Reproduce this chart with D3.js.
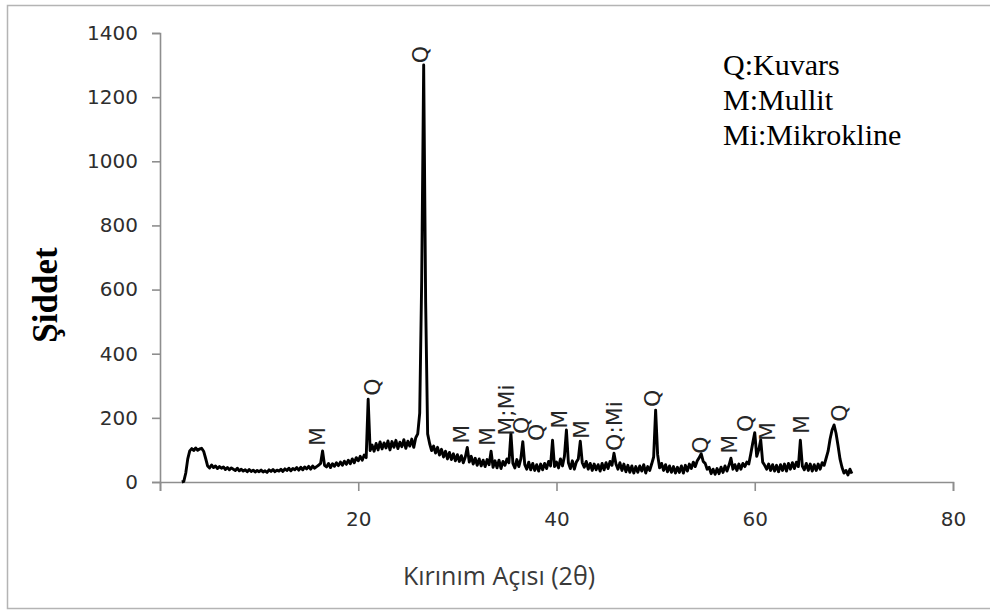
<!DOCTYPE html>
<html>
<head>
<meta charset="utf-8">
<script src="https://cdn.jsdelivr.net/npm/d3@7/dist/d3.min.js"></script>
<style>
  html, body { margin: 0; padding: 0; background: #fff; }
  svg { display: block; }
</style>
</head>
<body>
<svg id="chart" width="990" height="613"></svg>
<script>
// XRD scan: start angle, step width (2θ, degrees) and measured counts
const scanStart = 2.2;
const scanStep = 0.2;
const counts = [
  0, 2, 28, 72, 97, 104, 98, 106, 99, 103,           // 2.2 - 4.0
  105, 96, 74, 50, 44, 53, 45, 50, 42, 48,           // 4.2 - 6.0
  43, 47, 39, 45, 38, 44, 40, 36, 43, 35,            // 6.2 - 8.0
  40, 34, 38, 32, 39, 33, 37, 31, 36, 32,            // 8.2 - 10.0
  37, 31, 35, 30, 38, 33, 39, 32, 37, 34,            // 10.2 - 12.0
  40, 33, 41, 36, 43, 35, 42, 38, 45, 37,            // 12.2 - 14.0
  46, 38, 47, 41, 49, 40, 50, 43, 48, 52,            // 14.2 - 16.0
  58, 97, 52, 47, 58, 45, 57, 49, 60, 51,            // 16.2 - 18.0
  62, 52, 65, 55, 68, 57, 72, 60, 76, 66,            // 18.2 - 20.0
  80, 68, 84, 76, 258, 98, 115, 96, 120, 100,        // 20.2 - 22.0
  125, 103, 122, 106, 128, 100, 126, 108, 130, 104,  // 22.2 - 24.0
  124, 110, 132, 105, 127, 112, 134, 108, 138, 150,  // 24.2 - 26.0
  215, 630, 1300, 560, 150, 120, 98, 112, 90, 108,   // 26.2 - 28.0
  84, 102, 78, 96, 72, 92, 70, 88, 66, 85,           // 28.2 - 30.0
  64, 82, 60, 78, 108, 62, 80, 56, 74, 52,           // 30.2 - 32.0
  72, 50, 68, 48, 70, 54, 96, 46, 66, 44,            // 32.2 - 34.0
  68, 42, 64, 52, 72, 60, 152, 58, 44, 70,           // 34.2 - 36.0
  48, 72, 126, 54, 40, 62, 38, 58, 36, 54,           // 36.2 - 38.0
  34, 56, 38, 58, 42, 64, 50, 130, 48, 62,           // 38.2 - 40.0
  44, 72, 50, 80, 162, 60, 42, 66, 40, 62,           // 40.2 - 42.0
  72, 127, 60, 46, 64, 40, 58, 36, 56, 38,           // 42.2 - 44.0
  54, 34, 58, 38, 60, 42, 64, 52, 90, 56,            // 44.2 - 46.0
  40, 60, 36, 56, 32, 52, 30, 50, 28, 48,            // 46.2 - 48.0
  30, 50, 34, 54, 28, 48, 36, 56, 78, 224,           // 48.2 - 50.0
  86, 44, 58, 36, 54, 32, 50, 30, 48, 28,            // 50.2 - 52.0
  46, 30, 50, 28, 52, 34, 56, 42, 62, 48,            // 52.2 - 54.0
  66, 76, 88, 64, 58, 40, 46, 26, 40, 24,            // 54.2 - 56.0
  42, 26, 46, 30, 50, 34, 52, 74, 40, 54,            // 56.2 - 58.0
  36, 56, 40, 58, 48, 62, 56, 88, 122, 154,          // 58.2 - 60.0
  80, 100, 132, 62, 52, 40, 56, 36, 54, 34,          // 60.2 - 62.0
  52, 32, 54, 36, 56, 34, 58, 40, 60, 42,            // 62.2 - 64.0
  62, 48, 130, 50, 38, 58, 36, 56, 34, 54,           // 64.2 - 66.0
  36, 56, 40, 60, 52, 74, 96, 134, 162, 178,         // 66.2 - 68.0
  152, 114, 72, 46, 28, 36, 22, 40, 26               // 68.2 - 69.8
];

// Phase annotations: text, 2θ position and intensity level where the text starts
const peakLabels = ["M", "Q", "Q", "M", "M", "M;Mi", "Q", "Q", "M", "M", "Q:Mi", "Q", "Q", "M", "Q", "M", "M", "Q"];
const peakLabelAngles = [15.9, 21.4, 26.3, 30.45, 33.0, 35.0, 36.5, 38.0, 40.3, 42.5, 45.9, 49.7, 54.5, 57.5, 59.1, 61.3, 64.7, 68.6];
const peakLabelLevels = [112, 269, 1306, 119, 112, 144, 150, 128, 166, 134, 97, 234, 88, 88, 156, 128, 150, 188];

const legendLines = ["Q:Kuvars", "M:Mullit", "Mi:Mikrokline"];

const xTicks = [0, 20, 40, 60, 80];
const yTicks = [0, 200, 400, 600, 800, 1000, 1200, 1400];

const xTitle = "Kırınım Açısı (2θ)";
const yTitle = "Şiddet";

const pattern = counts.map((c, i) => ({ angle: +(scanStart + i * scanStep).toFixed(1), count: c }));

const svg = d3.select("#chart");

// outer frame
svg.append("rect")
  .attr("x", 7.5).attr("y", 5.5)
  .attr("width", 1000).attr("height", 603)
  .attr("fill", "none")
  .attr("stroke", "#b4b4b4")
  .attr("stroke-width", 1.5);

const x = d3.scaleLinear().domain([0, 80]).range([160, 953]);
const y = d3.scaleLinear().domain([0, 1400]).range([482, 33]);

const axisColor = "#8e8e8e";
const tickFont = "'DejaVu Sans', sans-serif";

const xAxis = svg.append("g")
  .attr("transform", `translate(0,${y(0)})`)
  .call(d3.axisBottom(x).tickValues(xTicks).tickSize(9).tickSizeOuter(9).tickPadding(21)
    .tickFormat(d => d === 0 ? "" : d3.format("d")(d)));

const yAxis = svg.append("g")
  .attr("transform", `translate(${x(0)},0)`)
  .call(d3.axisLeft(y).tickValues(yTicks).tickSize(8).tickSizeOuter(8).tickPadding(14)
    .tickFormat(d3.format("d")));

[xAxis, yAxis].forEach(g => {
  g.selectAll("path, line").attr("stroke", axisColor).attr("stroke-width", 1.6);
  g.selectAll("text")
    .attr("fill", "#2e2e2e")
    .style("font-family", tickFont)
    .style("font-size", "20px");
});

// diffraction trace
svg.append("path")
  .datum(pattern)
  .attr("fill", "none")
  .attr("stroke", "#000")
  .attr("stroke-width", 2.9)
  .attr("stroke-linejoin", "round")
  .attr("d", d3.line().x(d => x(d.angle)).y(d => y(d.count)));

// phase labels above the peaks, written upward
svg.append("g")
  .selectAll("text")
  .data(peakLabels)
  .join("text")
  .attr("transform", (d, i) => `translate(${x(peakLabelAngles[i])},${y(peakLabelLevels[i])}) rotate(-90)`)
  .attr("text-anchor", "start")
  .attr("dominant-baseline", "central")
  .attr("fill", "#262626")
  .style("font-family", "'DejaVu Sans', sans-serif")
  .style("font-size", "22px")
  .text(d => d);

// phase legend
svg.append("g")
  .selectAll("text")
  .data(legendLines)
  .join("text")
  .attr("x", 723)
  .attr("y", (d, i) => 75 + i * 35)
  .attr("fill", "#000")
  .style("font-family", "'Liberation Serif', 'Times New Roman', serif")
  .style("font-size", "30px")
  .text(d => d);

// axis titles
svg.append("text")
  .attr("x", 499).attr("y", 585)
  .attr("text-anchor", "middle")
  .attr("fill", "#3a3a3a")
  .style("font-family", "'Open Sans', sans-serif")
  .style("font-size", "25px")
  .text(xTitle);

svg.append("text")
  .attr("transform", "translate(57,295) rotate(-90)")
  .attr("text-anchor", "middle")
  .attr("fill", "#000")
  .style("font-family", "'Liberation Serif', 'Times New Roman', serif")
  .style("font-size", "35px")
  .style("font-weight", "bold")
  .text(yTitle);
</script>
</body>
</html>
